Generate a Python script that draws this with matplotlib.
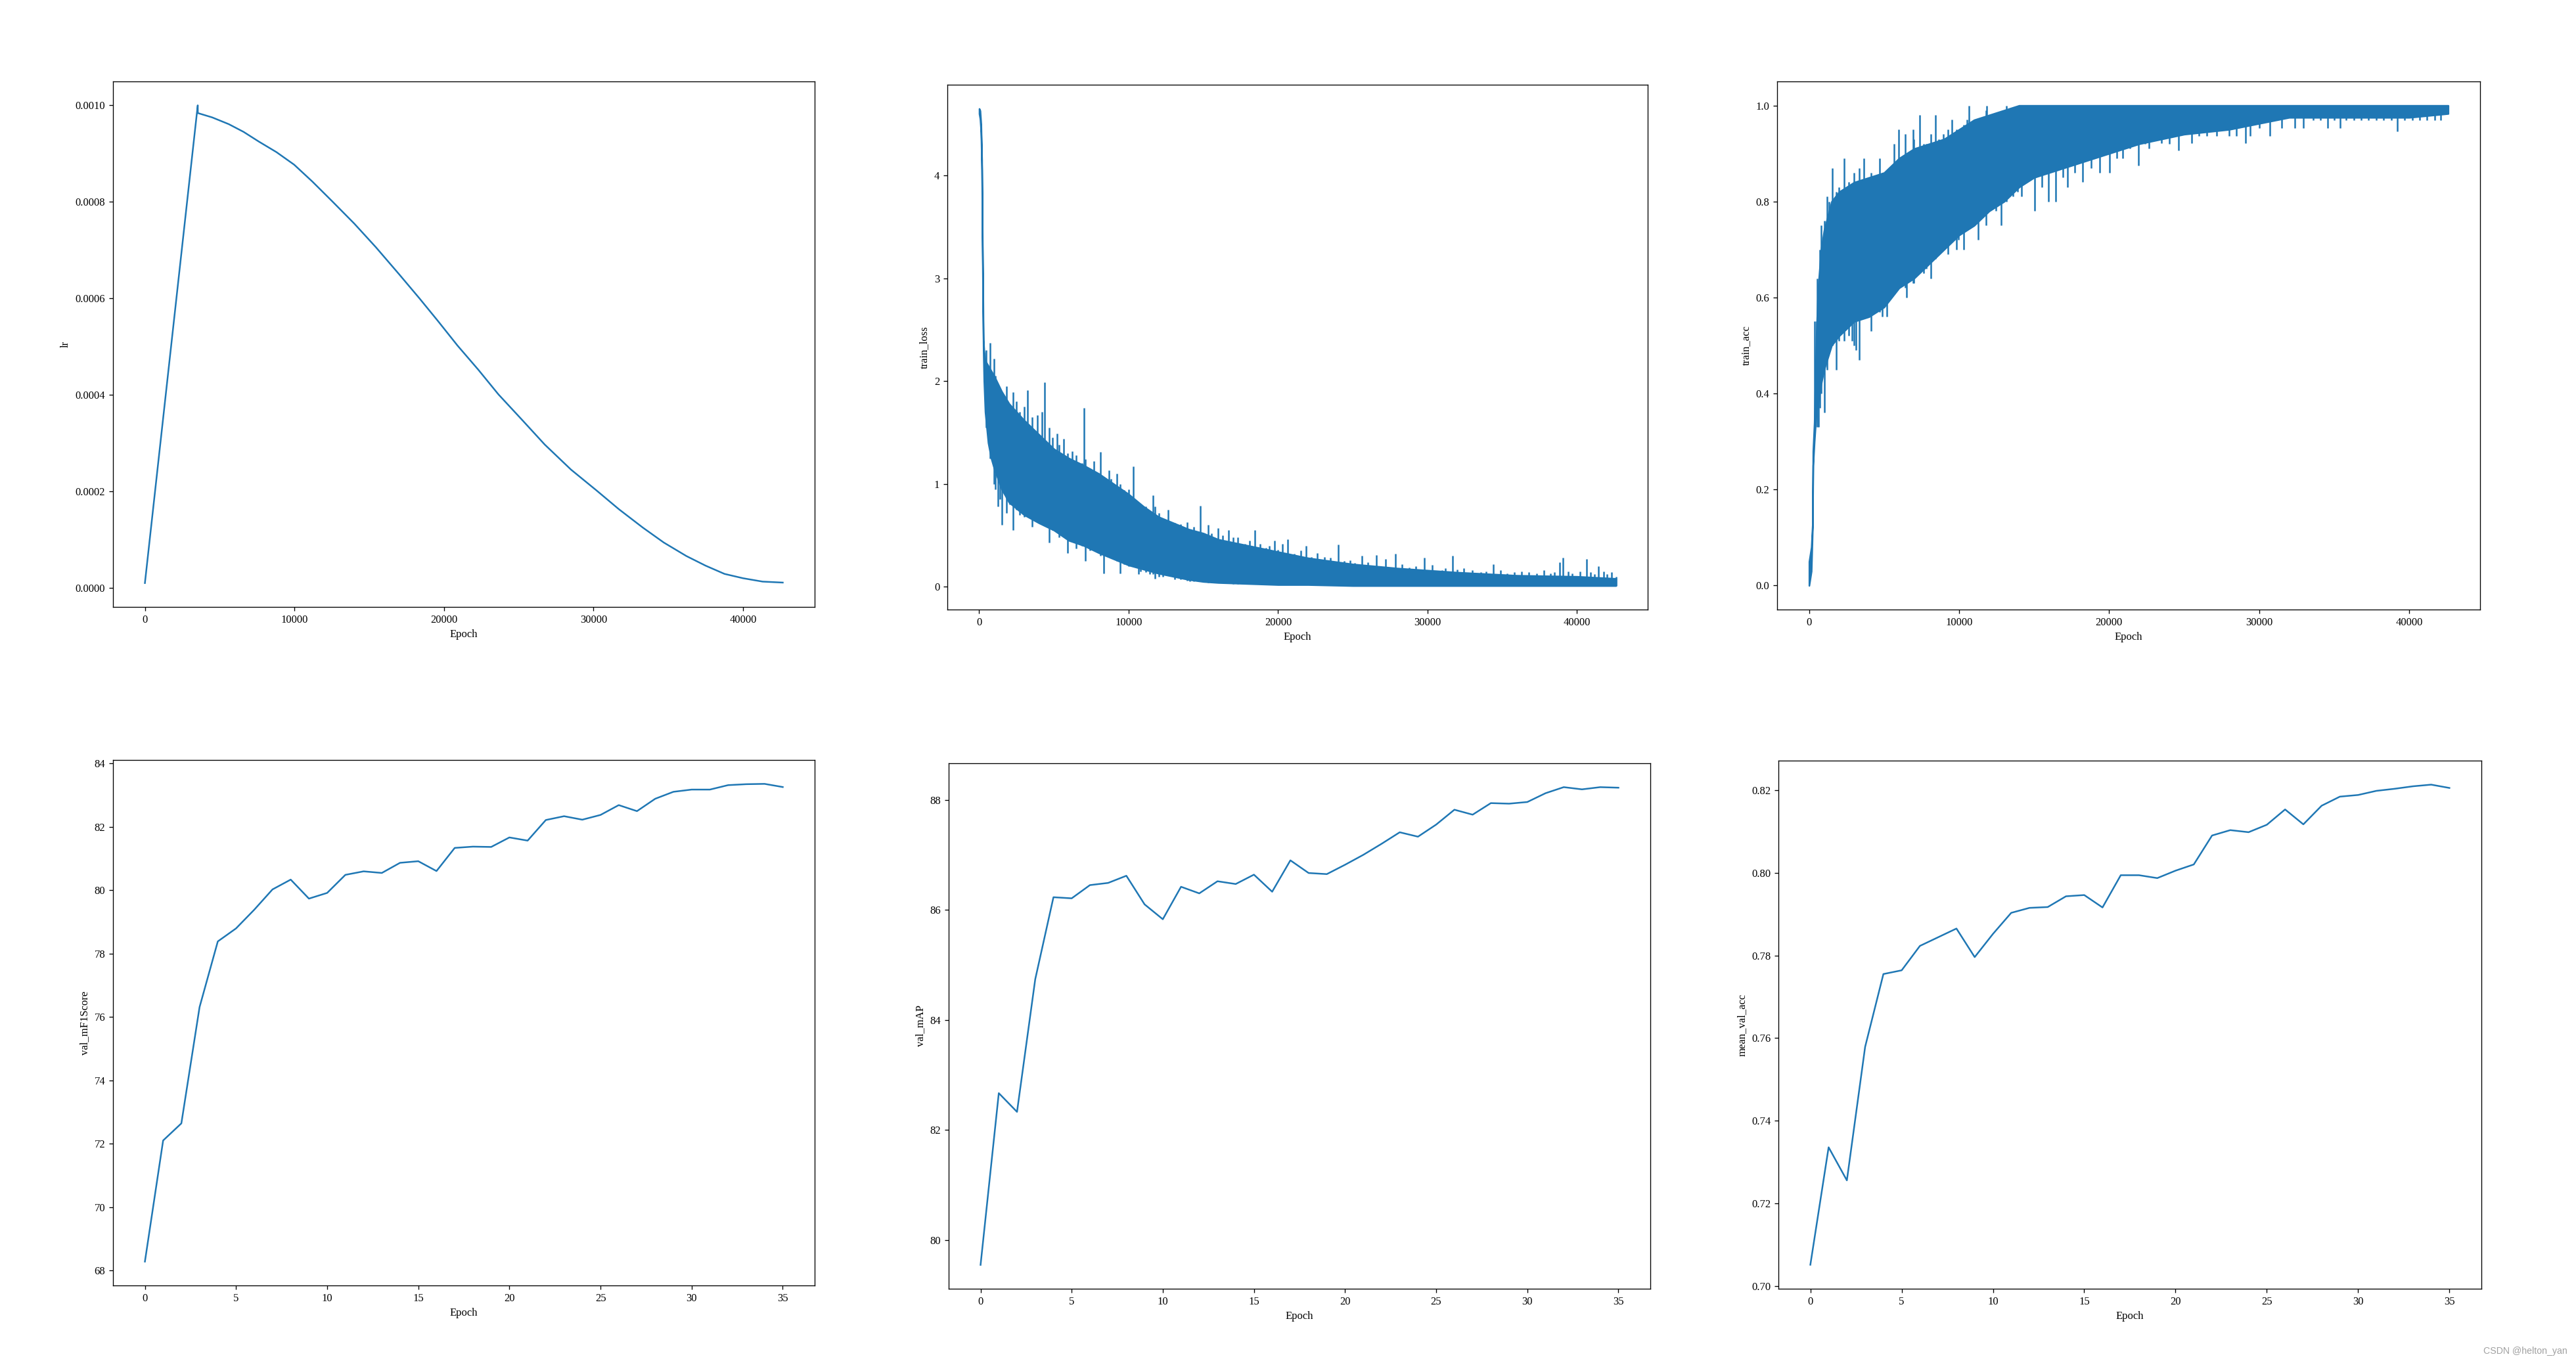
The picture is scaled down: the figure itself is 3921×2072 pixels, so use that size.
import matplotlib
matplotlib.use("Agg")
import matplotlib.pyplot as plt

plt.rcParams['font.family'] = ['Liberation Serif', 'DejaVu Serif']

# learning rate schedule (warmup + decay)
lr_epoch = [0, 3534, 3540, 4500, 5610, 6600, 7614, 8800, 9982, 11200, 12532, 14000,
            15446, 17000, 18361, 19600, 20911, 22300, 23643, 25200, 26740, 28500,
            30200, 31700, 33297, 34700, 36211, 37500, 38761, 40000, 41311, 42659]
lr_value = [0.000010, 0.001000, 0.000984, 0.000975, 0.000961, 0.000945, 0.000925,
            0.000903, 0.000877, 0.000842, 0.000801, 0.000755, 0.000706, 0.000650,
            0.000600, 0.000553, 0.000502, 0.000452, 0.000401, 0.000349, 0.000297,
            0.000245, 0.000202, 0.000163, 0.000125, 0.000094, 0.000066, 0.000046,
            0.000029, 0.000020, 0.000013, 0.000011]

# train_loss: solid core of the noisy band
loss_core_epoch = [0, 60, 120, 175, 218, 247, 277, 320, 400, 600, 800, 1000, 1500, 2000,
                   3000, 4000, 5000, 6000, 7000, 8000, 9000, 10000, 11000, 12000, 13000,
                   14000, 15000, 16000, 18000, 20000, 22000, 25000, 28000, 32000, 36000,
                   40000, 42600]
loss_core_hi = [4.65, 4.63, 4.50, 4.15, 3.33, 2.93, 2.40, 2.30, 2.20, 2.15, 2.10, 2.05,
                1.90, 1.78, 1.62, 1.48, 1.34, 1.25, 1.18, 1.10, 1.00, 0.90, 0.78, 0.68,
                0.62, 0.56, 0.52, 0.46, 0.40, 0.34, 0.28, 0.22, 0.18, 0.14, 0.11, 0.10,
                0.08]
loss_core_lo = [4.60, 4.55, 4.42, 4.05, 3.20, 2.70, 2.30, 2.00, 1.70, 1.40, 1.25, 1.15,
                0.95, 0.82, 0.70, 0.62, 0.55, 0.45, 0.40, 0.33, 0.27, 0.21, 0.17, 0.13,
                0.10, 0.07, 0.05, 0.04, 0.03, 0.02, 0.02, 0.01, 0.01, 0.01, 0.01, 0.01,
                0.01]

# train_loss: spikes (epoch, lowest, highest)
loss_spike_epoch = [450, 713, 975, 1100, 1267, 1400, 1502, 1848, 2050, 2285, 2500, 2700,
                    3013, 3231, 3523, 3886, 4200, 4367, 4687, 4900, 5196, 5342, 5633,
                    5924, 6215, 6507, 6900, 7002, 7090, 7400, 7672, 8109, 8327, 8691,
                    8837, 9201, 9419, 9710, 10001, 10322, 10656, 10800, 11166, 11400,
                    11632, 11748, 12040, 12300, 12622, 13059, 13496, 13933, 14079, 14370,
                    14777, 15000, 15300, 15534, 15971, 16300, 16700, 16990, 17300, 17800,
                    18100, 18446, 18800, 19174, 19400, 19757, 20000, 20300, 20630, 21067,
                    21500, 21868, 22231, 22600, 23100, 23500, 24045, 24410, 24800, 25138,
                    25600, 26000, 26594, 27200, 27831, 28300, 28777, 29200, 29796, 30300,
                    30961, 31200, 31659, 32000, 32416, 33000, 33581, 33900, 34396, 34900,
                    35328, 35800, 36300, 36783, 37300, 37800, 38239, 38500, 38821, 39039,
                    39400, 39694, 40200, 40640, 40900, 41150, 41441, 41800, 42023, 42300,
                    42600]
loss_spike_lo = [1.55, 1.25, 1.00, 0.95, 0.78, 0.85, 0.60, 0.72, 0.80, 0.55, 0.75, 0.70,
                 0.68, 0.75, 0.58, 0.63, 0.65, 0.70, 0.43, 0.55, 0.55, 0.48, 0.50, 0.33,
                 0.45, 0.37, 0.40, 0.40, 0.25, 0.35, 0.35, 0.30, 0.13, 0.30, 0.30, 0.25,
                 0.13, 0.22, 0.20, 0.20, 0.12, 0.15, 0.14, 0.12, 0.12, 0.08, 0.10, 0.10,
                 0.11, 0.07, 0.07, 0.06, 0.05, 0.05, 0.05, 0.05, 0.04, 0.04, 0.04, 0.04,
                 0.04, 0.03, 0.03, 0.03, 0.03, 0.03, 0.03, 0.03, 0.03, 0.02, 0.02, 0.02,
                 0.02, 0.02, 0.02, 0.02, 0.02, 0.02, 0.02, 0.02, 0.02, 0.02, 0.02, 0.02,
                 0.01, 0.01, 0.01, 0.01, 0.01, 0.01, 0.01, 0.01, 0.01, 0.01, 0.01, 0.01,
                 0.01, 0.01, 0.01, 0.01, 0.01, 0.01, 0.01, 0.01, 0.01, 0.01, 0.01, 0.01,
                 0.01, 0.01, 0.01, 0.01, 0.01, 0.01, 0.01, 0.01, 0.01, 0.01, 0.01, 0.01,
                 0.01, 0.01, 0.01, 0.01, 0.01]
loss_spike_hi = [2.30, 2.37, 2.22, 2.05, 1.95, 1.85, 1.80, 1.95, 1.75, 1.89, 1.80, 1.70,
                 1.75, 1.91, 1.65, 1.67, 1.70, 1.99, 1.55, 1.45, 1.49, 1.38, 1.44, 1.30,
                 1.32, 1.28, 1.20, 1.74, 1.24, 1.15, 1.22, 1.31, 1.00, 1.13, 1.05, 1.10,
                 1.00, 0.94, 0.95, 1.17, 0.68, 0.78, 0.78, 0.70, 0.89, 0.78, 0.72, 0.65,
                 0.75, 0.62, 0.61, 0.63, 0.52, 0.58, 0.79, 0.50, 0.60, 0.52, 0.57, 0.50,
                 0.55, 0.48, 0.48, 0.42, 0.45, 0.55, 0.42, 0.38, 0.40, 0.45, 0.36, 0.42,
                 0.46, 0.32, 0.35, 0.40, 0.29, 0.33, 0.29, 0.28, 0.41, 0.25, 0.26, 0.23,
                 0.30, 0.24, 0.31, 0.27, 0.32, 0.22, 0.19, 0.20, 0.28, 0.21, 0.16, 0.18,
                 0.30, 0.17, 0.18, 0.16, 0.14, 0.15, 0.22, 0.16, 0.13, 0.14, 0.15, 0.14,
                 0.13, 0.16, 0.13, 0.14, 0.24, 0.28, 0.15, 0.13, 0.15, 0.27, 0.14, 0.12,
                 0.20, 0.15, 0.12, 0.14, 0.10]

# train_acc: solid core of the noisy band
acc_core_epoch = [0, 150, 230, 261, 350, 480, 600, 800, 1000, 1500, 2000, 3000, 4000,
                  5000, 6000, 7000, 8000, 9000, 10000, 11000, 12000, 13000, 14000, 15000,
                  16000, 18000, 20000, 22000, 25000, 28000, 32000, 36000, 40000, 42600]
acc_core_hi = [0.05, 0.08, 0.13, 0.28, 0.34, 0.52, 0.62, 0.70, 0.74, 0.80, 0.82, 0.84,
               0.85, 0.86, 0.89, 0.91, 0.92, 0.93, 0.95, 0.97, 0.98, 0.99, 1.0, 1.0, 1.0,
               1.0, 1.0, 1.0, 1.0, 1.0, 1.0, 1.0, 1.0, 1.0]
acc_core_lo = [0.0, 0.03, 0.12, 0.25, 0.30, 0.36, 0.38, 0.42, 0.45, 0.50, 0.52, 0.55,
               0.56, 0.58, 0.62, 0.64, 0.67, 0.70, 0.73, 0.75, 0.78, 0.80, 0.83, 0.85,
               0.86, 0.88, 0.90, 0.92, 0.94, 0.95, 0.975, 0.975, 0.975, 0.983]

# train_acc: spikes (epoch, lowest, highest)
acc_spike_epoch = [377, 478, 550, 637, 724, 811, 1014, 1202, 1347, 1536, 1825, 2000,
                   2347, 2651, 2868, 3013, 3129, 3346, 3650, 4143, 4461, 4722, 4896, 5186,
                   5649, 5765, 5954, 6417, 6518, 6925, 6996, 7392, 7648, 7798, 8126, 8407,
                   8662, 8957, 9241, 9508, 9821, 9971, 10299, 10545, 10652, 11275, 11782,
                   11825, 12433, 12795, 13158, 13592, 13882, 14172, 15041, 15500, 15953,
                   16417, 16900, 17213, 17700, 18227, 18800, 19385, 20037, 20500, 20900,
                   21400, 21938, 22400, 22662, 23500, 24000, 24623, 25500, 26000, 26500,
                   27173, 28000, 28500, 29099, 29400, 30000, 30706, 31500, 32400, 32966,
                   33600, 34100, 34570, 35000, 35380, 35800, 36300, 36800, 37300, 37800,
                   38300, 38800, 39205, 39700, 40200, 40700, 41200, 41700, 42100]
acc_spike_lo = [0.33, 0.38, 0.33, 0.33, 0.37, 0.40, 0.36, 0.45, 0.49, 0.50, 0.45, 0.51,
                0.51, 0.52, 0.51, 0.50, 0.49, 0.47, 0.56, 0.53, 0.58, 0.57, 0.56, 0.56,
                0.62, 0.63, 0.64, 0.62, 0.60, 0.63, 0.63, 0.66, 0.65, 0.66, 0.64, 0.68,
                0.69, 0.70, 0.69, 0.72, 0.70, 0.72, 0.70, 0.75, 0.76, 0.72, 0.75, 0.78,
                0.78, 0.75, 0.80, 0.81, 0.82, 0.81, 0.78, 0.83, 0.80, 0.80, 0.85, 0.83,
                0.86, 0.84, 0.87, 0.86, 0.86, 0.89, 0.89, 0.91, 0.875, 0.92, 0.91, 0.921,
                0.92, 0.906, 0.921, 0.937, 0.937, 0.937, 0.937, 0.937, 0.921, 0.937,
                0.953, 0.937, 0.953, 0.953, 0.953, 0.969, 0.969, 0.953, 0.969, 0.953,
                0.969, 0.969, 0.969, 0.969, 0.969, 0.969, 0.969, 0.946, 0.969, 0.969,
                0.969, 0.969, 0.969, 0.969]
acc_spike_hi = [0.55, 0.55, 0.64, 0.62, 0.70, 0.75, 0.76, 0.81, 0.80, 0.87, 0.82, 0.83,
                0.89, 0.84, 0.82, 0.86, 0.83, 0.87, 0.89, 0.86, 0.85, 0.89, 0.86, 0.86,
                0.92, 0.88, 0.95, 0.94, 0.90, 0.95, 0.93, 0.98, 0.92, 0.92, 0.94, 0.98,
                0.93, 0.94, 0.95, 0.97, 0.95, 0.94, 0.96, 0.97, 1.0, 0.97, 0.99, 1.0,
                0.98, 0.98, 1.0, 0.99, 0.98, 1.0, 1.0, 1.0, 1.0, 1.0, 1.0, 1.0, 1.0, 1.0,
                1.0, 1.0, 1.0, 1.0, 1.0, 1.0, 1.0, 1.0, 1.0, 1.0, 1.0, 1.0, 1.0, 1.0, 1.0,
                1.0, 1.0, 1.0, 1.0, 1.0, 1.0, 1.0, 1.0, 1.0, 1.0, 1.0, 1.0, 1.0, 1.0, 1.0,
                1.0, 1.0, 1.0, 1.0, 1.0, 1.0, 1.0, 1.0, 1.0, 1.0, 1.0, 1.0, 1.0, 1.0]

# validation metrics per epoch
val_epoch = list(range(36))
val_mf1 = [68.28, 72.10, 72.64, 76.31, 78.38, 78.79, 79.38, 80.02, 80.33, 79.73, 79.91,
           80.48, 80.59, 80.54, 80.86, 80.91, 80.60, 81.33, 81.37, 81.36, 81.66, 81.56,
           82.21, 82.33, 82.22, 82.37, 82.68, 82.49, 82.88, 83.10, 83.17, 83.17, 83.31,
           83.34, 83.35, 83.25]
val_map = [79.55, 82.67, 82.33, 84.74, 86.23, 86.21, 86.45, 86.49, 86.62, 86.10, 85.83,
           86.42, 86.30, 86.52, 86.47, 86.64, 86.33, 86.90, 86.67, 86.65, 86.82, 87.00,
           87.20, 87.41, 87.33, 87.55, 87.82, 87.73, 87.94, 87.93, 87.96, 88.12, 88.23,
           88.19, 88.23, 88.22]
mean_val_acc = [0.7052, 0.7336, 0.7256, 0.7579, 0.7755, 0.7764, 0.7823, 0.7844, 0.7865,
                0.7796, 0.7852, 0.7903, 0.7915, 0.7917, 0.7943, 0.7946, 0.7916, 0.7994,
                0.7994, 0.7987, 0.8005, 0.8020, 0.8090, 0.8103, 0.8098, 0.8116, 0.8153,
                0.8117, 0.8162, 0.8184, 0.8188, 0.8198, 0.8203, 0.8209, 0.8213, 0.8205]

fig = plt.figure(figsize=(3922 / 120, 2072 / 120), dpi=120)

positions = [
    [0.04386, 0.55405, 0.27231, 0.38610],
    [0.36767, 0.55212, 0.27180, 0.38562],
    [0.68970, 0.55212, 0.27282, 0.38803],
    [0.04386, 0.05550, 0.27231, 0.38610],
    [0.36818, 0.05309, 0.27231, 0.38610],
    [0.69020, 0.05309, 0.27282, 0.38803],
]
axes = [fig.add_axes(p) for p in positions]

# lr
axes[0].plot(lr_epoch, lr_value, color='C0')
axes[0].set_ylabel('lr')

# train_loss
axes[1].fill_between(loss_core_epoch, loss_core_lo, loss_core_hi, color='C0', lw=1.5)
axes[1].vlines(loss_spike_epoch, loss_spike_lo, loss_spike_hi, color='C0', lw=1.5)
axes[1].set_ylabel('train_loss')

# train_acc
axes[2].fill_between(acc_core_epoch, acc_core_lo, acc_core_hi, color='C0', lw=1.5)
axes[2].vlines(acc_spike_epoch, acc_spike_lo, acc_spike_hi, color='C0', lw=1.5)
axes[2].set_ylabel('train_acc')

axes[3].plot(val_epoch, val_mf1, color='C0')
axes[3].set_ylabel('val_mF1Score')

axes[4].plot(val_epoch, val_map, color='C0')
axes[4].set_ylabel('val_mAP')

axes[5].plot(val_epoch, mean_val_acc, color='C0')
axes[5].set_ylabel('mean_val_acc')

for ax in axes:
    ax.set_xlabel('Epoch')

fig.text(0.9964, 0.004, 'CSDN @helton_yan', ha='right', va='bottom',
         color='#a0a0a0', fontsize=8.5, family=['Liberation Sans', 'DejaVu Sans'])

fig.savefig('out.png', dpi=120)
